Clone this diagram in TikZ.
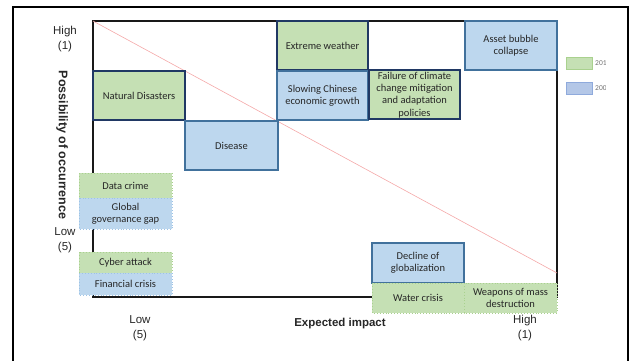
\documentclass[tikz,border=0pt]{standalone}
\usepackage{fontspec}
\setmainfont{Liberation Sans}
\newfontfamily\boxfont{Carlito}
\definecolor{gfill}{HTML}{C5E0B4}
\definecolor{bfill}{HTML}{BDD7EE}
\definecolor{navy}{HTML}{203864}
\definecolor{steel}{HTML}{41719C}
\definecolor{gdot}{HTML}{A9D18E}
\definecolor{bdot}{HTML}{9DC3E6}
\definecolor{lgblue}{HTML}{B4C7E7}
\definecolor{lgbluebd}{HTML}{8FAADC}
\definecolor{txt}{HTML}{262626}
\definecolor{diag}{HTML}{F4A8A8}
\tikzset{
  riskbox/.style={draw, minimum width=#1pt, inner sep=1pt, align=center,
    font=\boxfont\fontsize{10.5}{12.2}\selectfont, text=txt},
  greensolid/.style={fill=gfill, draw=navy, line width=1.3pt},
  bluesolid/.style={fill=bfill, draw=steel, line width=1.1pt},
  greendot/.style={fill=gfill, draw=gdot, dotted, line width=0.9pt},
  bluedot/.style={fill=bfill, draw=bdot, dotted, line width=0.9pt},
  axlab/.style={font=\fontsize{11.5}{15}\selectfont, text=txt, align=center},
}
\begin{document}
\begin{tikzpicture}[x=1pt,y=-1pt]
\useasboundingbox (0,0) rectangle (632,360);
% outer frame
\draw[line width=1.6pt, black] (13,362) -- (13,7) -- (628,7) -- (628,362);
% plot frame
\draw[line width=1.3pt, black!90] (93,21) rectangle (557,297);
% diagonal
\coordinate (d1) at (93,21);
\coordinate (d2) at (557,273);
\draw[diag, line width=0.6pt] (d1) -- (d2);
% boxes
\path[greensolid] (93,71) rectangle (185,120);
\node[riskbox=80, draw=none] (nat) at (139,95.5) {Natural Disasters};
\path[bluesolid] (185,121) rectangle (278,170);
\node[riskbox=80, draw=none] (dis) at (231.5,145.5) {Disease};
\path[greensolid] (277,21) rectangle (368,70);
\node[riskbox=80, draw=none] (ext) at (322.5,45.5) {Extreme weather};
\path[bluesolid] (277,71) rectangle (368,120);
\node[riskbox=80, draw=none] (chn) at (322.5,95.5) {Slowing Chinese\\economic growth};
\path[greensolid] (369,70) rectangle (460,119);
\node[riskbox=80, draw=none] (clim) at (414.5,95) {Failure of climate\\change mitigation\\and adaptation\\policies};
\path[bluesolid] (465,21) rectangle (557,70);
\node[riskbox=80, draw=none] (asset) at (511,45.5) {Asset bubble\\collapse};
% left stacked boxes
\path[greendot] (79,173) rectangle (172,198);
\node[riskbox=80, draw=none] (data) at (125.5,185.5) {Data crime};
\path[bluedot] (79,198) rectangle (172,229);
\node[riskbox=80, draw=none] (gov) at (125.5,213.5) {Global\\governance gap};
\path[greendot] (79,252) rectangle (172,273);
\node[riskbox=80, draw=none] (cyb) at (125.5,262.5) {Cyber attack};
\path[bluedot] (79,273) rectangle (172,295);
\node[riskbox=80, draw=none] (fin) at (125.5,284) {Financial crisis};
% bottom right boxes
\path[bluesolid] (372,243) rectangle (464,283);
\node[riskbox=80, draw=none] (glob) at (418,263) {Decline of\\globalization};
\path[greendot] (372,283) rectangle (464,313);
\node[riskbox=80, draw=none] (water) at (418,298) {Water crisis};
\path[greendot] (464,283) rectangle (557,313);
\node[riskbox=85, draw=none] (wmd) at (510.5,298) {Weapons of mass\\destruction};
% axis labels
\node[axlab] (yhigh) at (65,39.5) {High\\(1)};
\node[axlab] (ylow) at (65,240.5) {Low\\(5)};
\node[axlab, rotate=-90, font=\bfseries\fontsize{12.5}{15}\selectfont] (ylab) at (62,145) {Possibility of occurrence};
\node[axlab] (xlow) at (140,328) {Low\\(5)};
\node[axlab] (xhigh) at (525,328) {High\\(1)};
\node[axlab, font=\bfseries\fontsize{11.5}{15}\selectfont] (xlab) at (340,324) {Expected impact};
% legend
\path[fill=gfill, draw=gdot, line width=0.8pt] (566,57) rectangle (592,69);
\path[fill=lgblue, draw=lgbluebd, line width=0.8pt] (566,82) rectangle (592,94);
\begin{scope}
\clip (592,40) rectangle (605,110);
\node[anchor=west, inner sep=0pt, text=black!55, font=\boxfont\fontsize{7.5}{9}\selectfont] (l19) at (595,63) {2019};
\node[anchor=west, inner sep=0pt, text=black!55, font=\boxfont\fontsize{7.5}{9}\selectfont] (l09) at (595,88) {2009};
\end{scope}
\end{tikzpicture}
\end{document}
